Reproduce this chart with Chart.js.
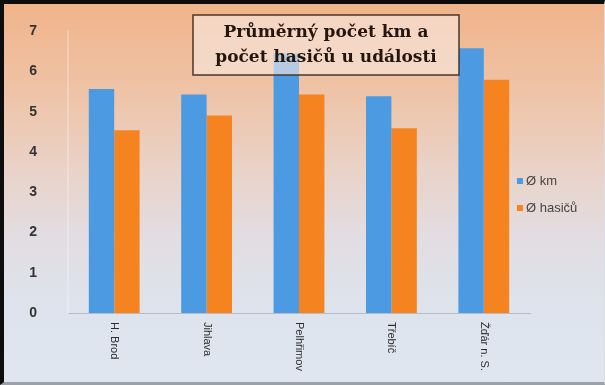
<!DOCTYPE html>
<html>
<head>
<meta charset="utf-8">
<script src="https://cdn.jsdelivr.net/npm/chart.js@4"></script>
<style>
  html, body { margin: 0; padding: 0; }
  #wrap {
    position: relative;
    width: 605px;
    height: 385px;
    overflow: hidden;
    background: linear-gradient(180deg, #f0b389 0%, #efc2a4 22%, #e9d3c9 45%, #e2dde2 62%, #dde4ee 82%, #dfe6ef 100%);
  }
  #chart { position: absolute; left: 0; top: 0; }
  #frame {
    position: absolute; left: 0; top: 0; width: 605px; height: 385px;
    box-sizing: border-box;
    border-left: 4px solid #0d0d0d;
    border-top: 4px solid #0d0d0d;
    border-right: 1px solid #d8dde4;
    border-bottom: 3px solid #9ba1a8;
    pointer-events: none;
  }
</style>
</head>
<body>
<div id="wrap">
  <canvas id="chart" width="605" height="385"></canvas>
  <div id="frame"></div>
</div>
<script>
/* Průměrný počet km a počet hasičů u události */

const categories = ["H. Brod", "Jihlava", "Pelhřimov", "Třebíč", "Žďár n. S."];
const kmValues = [5.57, 5.43, 6.45, 5.39, 6.58];
const hasiciValues = [4.54, 4.91, 5.43, 4.59, 5.80];
const seriesNames = ["Ø km", "Ø hasičů"];
const yTicks = [0, 1, 2, 3, 4, 5, 6, 7];
const titleLines = ["Průměrný počet km a", "počet hasičů u události"];

const BLUE = "#4c9be2";
const ORANGE = "#f5831f";

// x labels read top to bottom, so they are drawn here instead of by the scale
const xLabelPlugin = {
  id: "xLabels",
  afterDraw(chart) {
    const { ctx, scales } = chart;
    const x = scales.x;
    ctx.save();
    ctx.font = "11px 'Liberation Sans', Arial, sans-serif";
    ctx.fillStyle = "#2e2e2e";
    ctx.textAlign = "left";
    ctx.textBaseline = "middle";
    categories.forEach((label, i) => {
      ctx.save();
      ctx.translate(x.getPixelForValue(i), chart.chartArea.bottom + 9);
      ctx.rotate(Math.PI / 2);
      ctx.fillText(label, 0, 0);
      ctx.restore();
    });
    ctx.restore();
  },
};

const legendPlugin = {
  id: "sideLegend",
  afterDraw(chart) {
    const { ctx } = chart;
    ctx.save();
    ctx.font = "13px 'Liberation Sans', Arial, sans-serif";
    ctx.textBaseline = "middle";
    chart.data.datasets.forEach((ds, i) => {
      const y = 181 + i * 27;
      ctx.fillStyle = ds.backgroundColor;
      ctx.fillRect(517, y - 3, 6, 6);
      ctx.fillStyle = "#454545";
      ctx.fillText(ds.label, 526, y);
    });
    ctx.restore();
  },
};

const titleBoxPlugin = {
  id: "titleBox",
  afterDraw(chart) {
    const { ctx } = chart;
    ctx.save();
    ctx.fillStyle = "rgba(247, 232, 224, 0.62)";
    ctx.fillRect(193, 15, 266, 60);
    ctx.strokeStyle = "#4a3628";
    ctx.lineWidth = 1.5;
    ctx.strokeRect(193, 15, 266, 60);
    ctx.fillStyle = "#24160e";
    ctx.font = "bold 17px 'DejaVu Serif', 'Liberation Serif', serif";
    ctx.textAlign = "center";
    ctx.textBaseline = "middle";
    ctx.fillText(titleLines[0], 326, 33);
    ctx.fillText(titleLines[1], 326, 58);
    ctx.restore();
  },
};

new Chart(document.getElementById("chart"), {
  type: "bar",
  data: {
    labels: categories,
    datasets: [
      { label: seriesNames[0], data: kmValues, backgroundColor: BLUE },
      { label: seriesNames[1], data: hasiciValues, backgroundColor: ORANGE },
    ],
  },
  options: {
    responsive: false,
    animation: false,
    layout: { padding: { top: 28, right: 75, bottom: 0, left: 0 } },
    datasets: { bar: { categoryPercentage: 0.55, barPercentage: 1 } },
    plugins: { legend: { display: false }, tooltip: { enabled: false } },
    scales: {
      x: {
        grid: { display: false },
        border: { display: true, color: "#b9bcc2", width: 1 },
        ticks: { display: false },
        afterFit(scale) { scale.height = 72; },
      },
      y: {
        min: 0,
        max: 7,
        afterBuildTicks(scale) { scale.ticks = yTicks.map((v) => ({ value: v })); },
        grid: { display: false },
        border: { display: true, color: "rgba(255,255,255,0.25)", width: 2 },
        ticks: {
          padding: 23,
          color: "#333333",
          font: { family: "'Liberation Sans', Arial, sans-serif", size: 14, weight: "bold" },
        },
        afterFit(scale) { scale.width = 68; },
      },
    },
  },
  plugins: [xLabelPlugin, legendPlugin, titleBoxPlugin],
});
</script>
</body>
</html>
